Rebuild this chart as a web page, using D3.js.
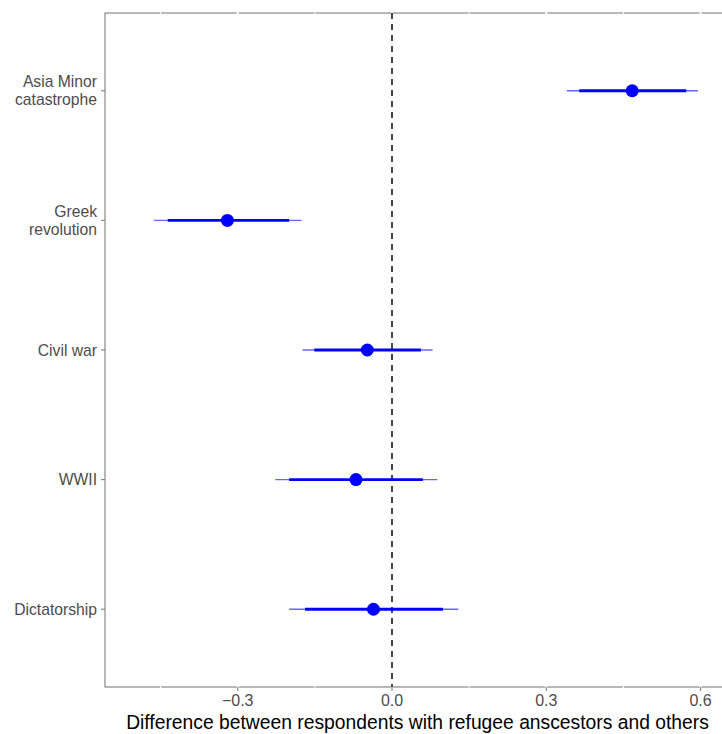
<!DOCTYPE html>
<html>
<head>
<meta charset="utf-8">
<script src="https://cdn.jsdelivr.net/npm/d3@7"></script>
<style>
  body { margin: 0; background: #fff; }
  text { font-family: "Liberation Sans", Arial, sans-serif; }
</style>
</head>
<body>
<script>
// events, top to bottom
var events = ["Asia Minor\ncatastrophe", "Greek\nrevolution", "Civil war", "WWII", "Dictatorship"];
// point estimate
var estimates = [0.467, -0.320, -0.048, -0.070, -0.036];
// inner (thick) interval
var innerLow = [0.364, -0.436, -0.151, -0.200, -0.169];
var innerHigh = [0.572, -0.200, 0.056, 0.060, 0.099];
// outer (thin) interval
var outerLow = [0.340, -0.463, -0.174, -0.227, -0.200];
var outerHigh = [0.595, -0.176, 0.079, 0.088, 0.129];
var majorTicks = [-0.3, 0, 0.3, 0.6];
var minorTicks = [-0.45, -0.15, 0.15, 0.45];

var w = 722, h = 734;
var padLeft = 105, padTop = 13, panelBottom = 687;

var x = d3.scaleLinear()
    .domain([-0.3, 0.3])
    .range([237.7, 546.3]);

var y = d3.scalePoint()
    .domain(events)
    .range([padTop, panelBottom])
    .padding(0.6);

var svg = d3.select("body").append("svg")
    .attr("width", w)
    .attr("height", h);

// panel border (grey), gridlines drawn over it in white
svg.append("rect")
    .attr("x", padLeft).attr("y", padTop)
    .attr("width", w - padLeft + 5).attr("height", panelBottom - padTop)
    .attr("fill", "white")
    .attr("stroke", "#7f7f7f")
    .attr("stroke-width", 1.1);

svg.selectAll(".minor").data(minorTicks).enter().append("line")
    .attr("x1", d => x(d)).attr("x2", d => x(d))
    .attr("y1", padTop - 1).attr("y2", panelBottom + 1)
    .attr("stroke", "white").attr("stroke-width", 1.1);

svg.selectAll(".major").data(majorTicks).enter().append("line")
    .attr("x1", d => x(d)).attr("x2", d => x(d))
    .attr("y1", padTop - 1).attr("y2", panelBottom + 1)
    .attr("stroke", "white").attr("stroke-width", 2);

// zero reference line
svg.append("line")
    .attr("x1", x(0)).attr("x2", x(0))
    .attr("y1", padTop).attr("y2", panelBottom)
    .attr("stroke", "#1a1a1a")
    .attr("stroke-width", 1.6)
    .attr("stroke-dasharray", "6,5");

var rows = events.map(function(e, i) {
    return {name: e, est: estimates[i], lo: innerLow[i], hi: innerHigh[i], lo2: outerLow[i], hi2: outerHigh[i]};
});

var g = svg.append("g");

g.selectAll(".outer").data(rows).enter().append("line")
    .attr("x1", d => x(d.lo2)).attr("x2", d => x(d.hi2))
    .attr("y1", d => y(d.name)).attr("y2", d => y(d.name))
    .attr("stroke", "#0000ff").attr("stroke-opacity", 0.6)
    .attr("stroke-width", 1.4);

g.selectAll(".inner").data(rows).enter().append("line")
    .attr("x1", d => x(d.lo)).attr("x2", d => x(d.hi))
    .attr("y1", d => y(d.name)).attr("y2", d => y(d.name))
    .attr("stroke", "#0000ff")
    .attr("stroke-width", 2.8);

g.selectAll("circle").data(rows).enter().append("circle")
    .attr("cx", d => x(d.est))
    .attr("cy", d => y(d.name))
    .attr("r", 6.5)
    .attr("fill", "#0000ff");

// x axis ticks and labels
svg.selectAll(".xtick").data(majorTicks).enter().append("line")
    .attr("x1", d => x(d)).attr("x2", d => x(d))
    .attr("y1", panelBottom).attr("y2", panelBottom + 4)
    .attr("stroke", "#7f7f7f").attr("stroke-width", 1.1);

svg.selectAll(".xlab").data(majorTicks).enter().append("text")
    .attr("x", d => x(d))
    .attr("y", 706)
    .attr("text-anchor", "middle")
    .attr("font-size", 16)
    .attr("fill", "#4d4d4d")
    .text(d => d3.format(".1f")(d).replace("-", "\u2212"));

svg.append("text")
    .attr("x", (padLeft + w) / 2 + 4)
    .attr("y", 729)
    .attr("text-anchor", "middle")
    .attr("font-size", 19.3)
    .attr("fill", "black")
    .text("Difference between respondents with refugee anscestors and others");

// y axis ticks and labels
svg.selectAll(".ytick").data(events).enter().append("line")
    .attr("x1", padLeft - 4).attr("x2", padLeft)
    .attr("y1", d => y(d)).attr("y2", d => y(d))
    .attr("stroke", "#7f7f7f").attr("stroke-width", 1.1);

svg.selectAll(".ylab").data(events).enter().append("text")
    .attr("text-anchor", "end")
    .attr("font-size", 15.7)
    .attr("fill", "#4d4d4d")
    .each(function(d) {
        var lines = d.split("\n");
        var t = d3.select(this);
        var y0 = y(d) + 5.5 - (lines.length - 1) * 9.2;
        lines.forEach(function(l, k) {
            t.append("tspan").attr("x", padLeft - 8).attr("y", y0 + k * 18.4).text(l);
        });
    });
</script>
</body>
</html>
